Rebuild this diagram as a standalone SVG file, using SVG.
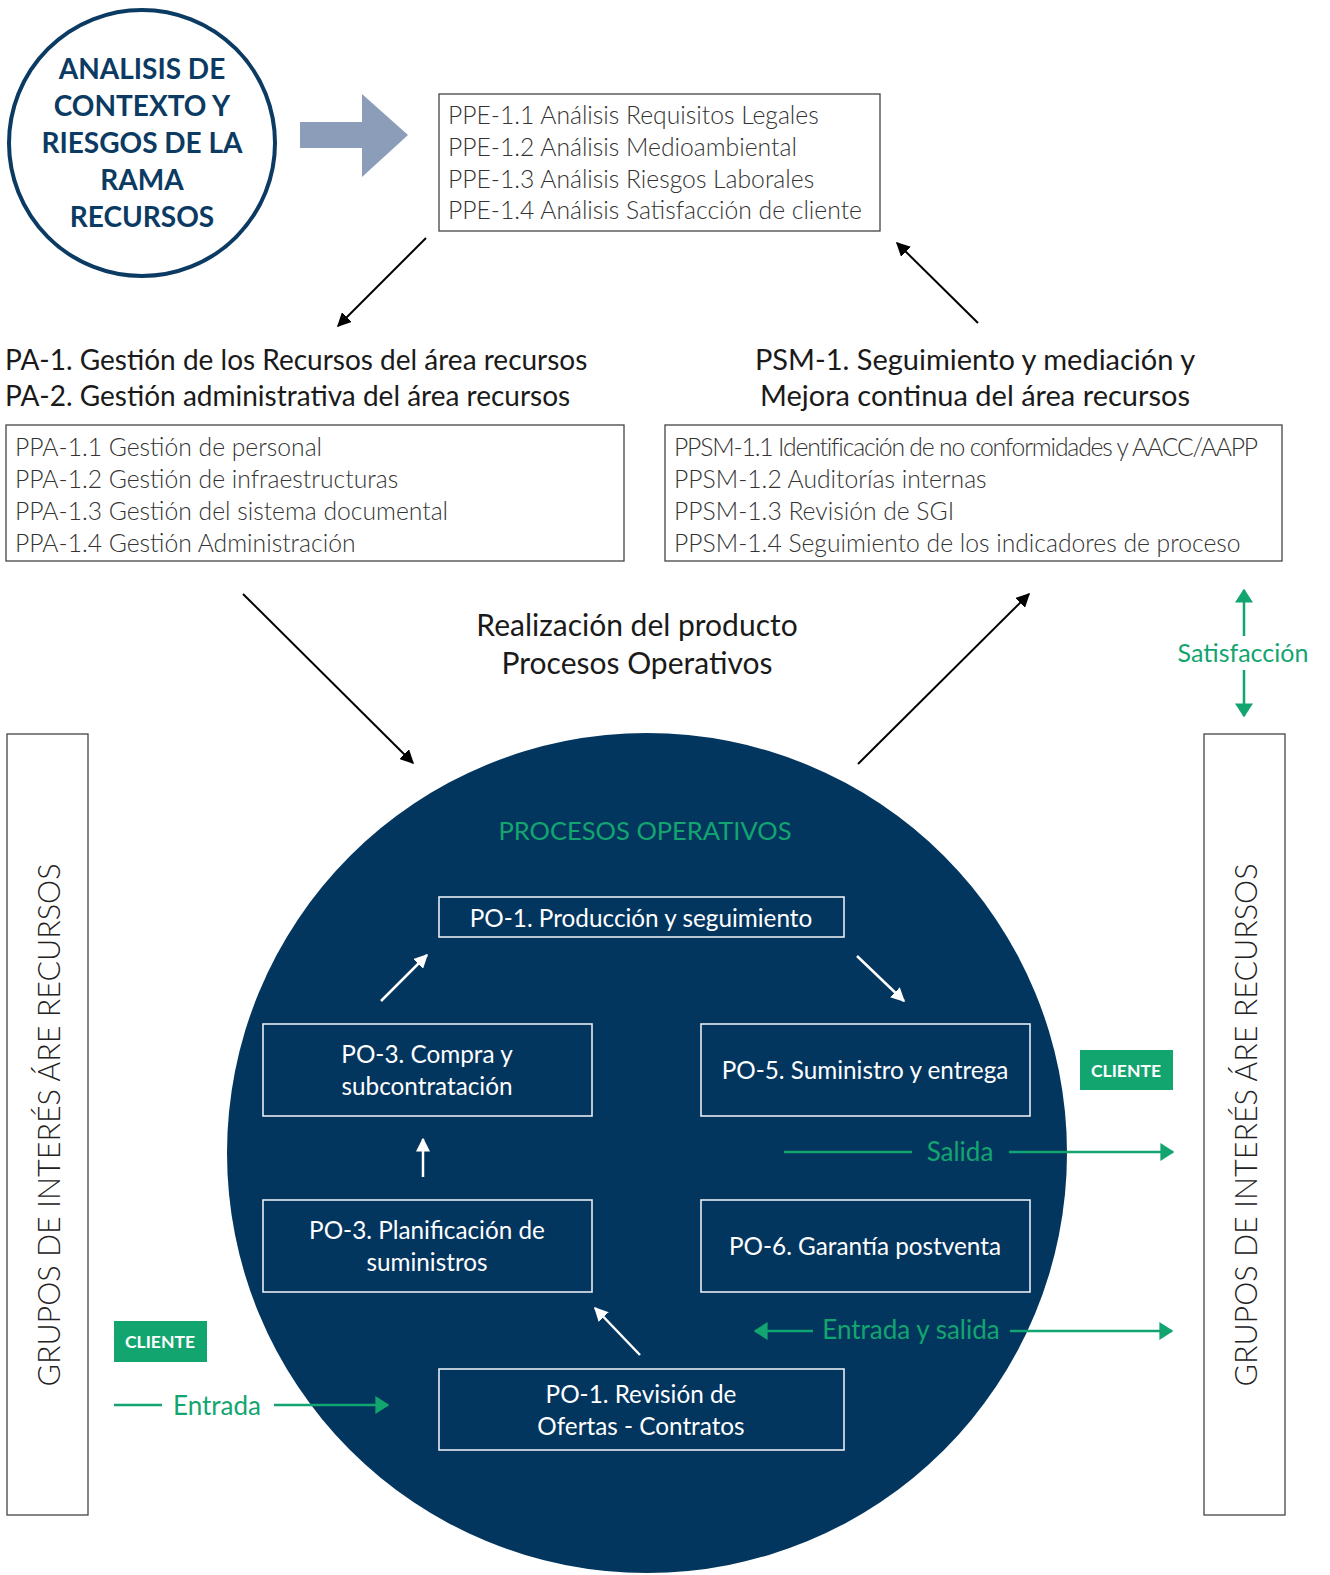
<svg xmlns="http://www.w3.org/2000/svg" width="1330" height="1575" viewBox="0 0 1330 1575">
<defs>
<style>
text{font-family:Lato,"Noto Sans","Liberation Sans",sans-serif}
.lt{font-weight:300;fill:#333;font-size:24.7px}
.hd{font-weight:400;fill:#1a1a1a;font-size:28px}
.wt{fill:#fff;font-size:24.3px;text-anchor:middle;font-weight:400}
.gr{fill:#13a56f;font-size:26px;font-weight:400}
.box{fill:#fff;stroke:#444;stroke-width:1.3}
.wbox{fill:none;stroke:#e8edf2;stroke-width:1.6}
.blk{stroke:#000;stroke-width:2;fill:none}
.wl{stroke:#fff;stroke-width:2.5;fill:none}
.gl{stroke:#13a56f;stroke-width:2.5;fill:none}
.cl{fill:#fff;font-size:17.5px;text-anchor:middle;font-weight:700}
</style>
<marker id="aw" viewBox="0 0 10 10" refX="9" refY="5" markerWidth="14" markerHeight="14" orient="auto" markerUnits="userSpaceOnUse"><path d="M0,0 L10,5 L0,10 z" fill="#fff"/></marker>
<marker id="ag" viewBox="0 0 10 10" refX="9" refY="5" markerWidth="14" markerHeight="18" orient="auto" markerUnits="userSpaceOnUse" preserveAspectRatio="none"><path d="M0,0 L10,5 L0,10 z" fill="#13a56f"/></marker>
<marker id="abk" viewBox="0 0 10 10" refX="9" refY="5" markerWidth="14" markerHeight="14" orient="auto" markerUnits="userSpaceOnUse"><path d="M0,0 L10,5 L0,10 z" fill="#000"/></marker>
</defs>
<rect width="1330" height="1575" fill="#fff"/>

<g id="big-circle">
<circle cx="647" cy="1153" r="420" fill="#03365f"/>
<text x="645" y="840" class="gr" text-anchor="middle" style="font-size:25.5px">PROCESOS OPERATIVOS</text>
</g>

<g id="contexto">
<circle cx="142" cy="143" r="133" fill="#fff" stroke="#0b3a63" stroke-width="4"/>
<g font-size="28" fill="#0b3a63" text-anchor="middle" font-weight="700">
<text x="142" y="79">ANALISIS DE</text>
<text x="142" y="116">CONTEXTO Y</text>
<text x="142" y="153">RIESGOS DE LA</text>
<text x="142" y="190">RAMA</text>
<text x="142" y="227">RECURSOS</text>
</g>
</g>

<g id="big-arrow">
<path d="M300,122 L362,122 L362,94 L408,135 L362,177 L362,148 L300,148 z" fill="#8c9db9"/>
</g>

<g id="ppe">
<rect x="439" y="94" width="441" height="137" class="box"/>
<text x="448" y="124" class="lt">PPE-1.1 Análisis Requisitos Legales</text>
<text x="448" y="156" class="lt">PPE-1.2 Análisis Medioambiental</text>
<text x="448" y="188" class="lt">PPE-1.3 Análisis Riesgos Laborales</text>
<text x="448" y="219" class="lt">PPE-1.4 Análisis Satisfacción de cliente</text>
</g>

<g id="pa-title">
<text x="5" y="370" class="hd">PA-1. Gestión de los Recursos del área recursos</text>
<text x="5" y="406" class="hd">PA-2. Gestión administrativa del área recursos</text>
</g>

<g id="psm-title">
<text x="975" y="370" class="hd" text-anchor="middle" style="font-size:29px">PSM-1. Seguimiento y mediación y</text>
<text x="975" y="406" class="hd" text-anchor="middle" style="font-size:29px">Mejora continua del área recursos</text>
</g>

<g id="ppa">
<rect x="6" y="425" width="618" height="136" class="box"/>
<text x="15" y="456" class="lt">PPA-1.1 Gestión de personal</text>
<text x="15" y="488" class="lt">PPA-1.2 Gestión de infraestructuras</text>
<text x="15" y="520" class="lt">PPA-1.3 Gestión del sistema documental</text>
<text x="15" y="552" class="lt">PPA-1.4 Gestión Administración</text>
</g>

<g id="ppsm">
<rect x="665" y="425" width="617" height="136" class="box"/>
<text x="674" y="456" class="lt" letter-spacing="-1.15">PPSM-1.1 Identificación de no conformidades y AACC/AAPP</text>
<text x="674" y="488" class="lt">PPSM-1.2 Auditorías internas</text>
<text x="674" y="520" class="lt">PPSM-1.3 Revisión de SGI</text>
<text x="674" y="552" class="lt">PPSM-1.4 Seguimiento de los indicadores de proceso</text>
</g>

<g id="realizacion">
<text x="637" y="636" class="hd" text-anchor="middle" style="font-size:30px">Realización del producto</text>
<text x="637" y="674" class="hd" text-anchor="middle" style="font-size:30px">Procesos Operativos</text>
</g>

<g id="satisfaccion">
<text x="1243" y="662" class="gr" text-anchor="middle" style="font-size:25px">Satisfacción</text>
</g>

<g id="grupos-left">
<rect x="7" y="734" width="81" height="781" class="box"/>
<text transform="translate(60,1125) rotate(-90)" x="0" y="0" font-size="30.5" font-weight="300" fill="#222" text-anchor="middle">GRUPOS DE INTERÉS ÁRE RECURSOS</text>
</g>

<g id="grupos-right">
<rect x="1204" y="734" width="81" height="781" class="box"/>
<text transform="translate(1257,1125) rotate(-90)" x="0" y="0" font-size="30.5" font-weight="300" fill="#222" text-anchor="middle">GRUPOS DE INTERÉS ÁRE RECURSOS</text>
</g>

<g id="po1-prod">
<rect x="439" y="897" width="405" height="40" class="wbox"/>
<text x="641" y="927" class="wt">PO-1. Producción y seguimiento</text>
</g>
<g id="po3-compra">
<rect x="263" y="1024" width="329" height="92" class="wbox"/>
<text x="427" y="1063" class="wt">PO-3. Compra y</text>
<text x="427" y="1095" class="wt">subcontratación</text>
</g>
<g id="po5">
<rect x="701" y="1024" width="329" height="92" class="wbox"/>
<text x="865" y="1079" class="wt">PO-5. Suministro y entrega</text>
</g>
<g id="po3-plan">
<rect x="263" y="1200" width="329" height="92" class="wbox"/>
<text x="427" y="1239" class="wt">PO-3. Planificación de</text>
<text x="427" y="1271" class="wt">suministros</text>
</g>
<g id="po6">
<rect x="701" y="1200" width="329" height="92" class="wbox"/>
<text x="865" y="1255" class="wt">PO-6. Garantía postventa</text>
</g>
<g id="po1-rev">
<rect x="439" y="1369" width="405" height="81" class="wbox"/>
<text x="641" y="1403" class="wt">PO-1. Revisión de</text>
<text x="641" y="1435" class="wt">Ofertas - Contratos</text>
</g>

<g id="cliente-right">
<rect x="1080" y="1050" width="93" height="40" fill="#13a56f"/>
<text x="1126" y="1077" class="cl">CLIENTE</text>
</g>
<g id="cliente-left">
<rect x="114" y="1321" width="93" height="41" fill="#13a56f"/>
<text x="160" y="1348" class="cl">CLIENTE</text>
</g>

<g id="flow-labels">
<text x="960" y="1161" class="gr" text-anchor="middle">Salida</text>
<text x="911" y="1339" class="gr" text-anchor="middle">Entrada y salida</text>
<text x="217" y="1415" class="gr" text-anchor="middle">Entrada</text>
</g>

<g id="connectors">
<line x1="426" y1="238" x2="338" y2="326" class="blk" marker-end="url(#abk)"/>
<line x1="978" y1="323" x2="897" y2="243" class="blk" marker-end="url(#abk)"/>
<line x1="243" y1="594" x2="413" y2="763" class="blk" marker-end="url(#abk)"/>
<line x1="858" y1="764" x2="1029" y2="594" class="blk" marker-end="url(#abk)"/>

<line x1="381" y1="1001" x2="427" y2="955" class="wl" marker-end="url(#aw)"/>
<line x1="857" y1="956" x2="904" y2="1001" class="wl" marker-end="url(#aw)"/>
<line x1="423" y1="1177" x2="423" y2="1139" class="wl" marker-end="url(#aw)"/>
<line x1="640" y1="1355" x2="595" y2="1308" class="wl" marker-end="url(#aw)"/>

<line x1="1244" y1="636" x2="1244" y2="590" class="gl" marker-end="url(#ag)"/>
<line x1="1244" y1="670" x2="1244" y2="716" class="gl" marker-end="url(#ag)"/>
<line x1="784" y1="1152" x2="912" y2="1152" class="gl"/>
<line x1="1009" y1="1152" x2="1173" y2="1152" class="gl" marker-end="url(#ag)"/>
<line x1="813" y1="1331" x2="755" y2="1331" class="gl" marker-end="url(#ag)"/>
<line x1="1010" y1="1331" x2="1172" y2="1331" class="gl" marker-end="url(#ag)"/>
<line x1="114" y1="1405" x2="162" y2="1405" class="gl"/>
<line x1="274" y1="1405" x2="388" y2="1405" class="gl" marker-end="url(#ag)"/>
</g>
</svg>
